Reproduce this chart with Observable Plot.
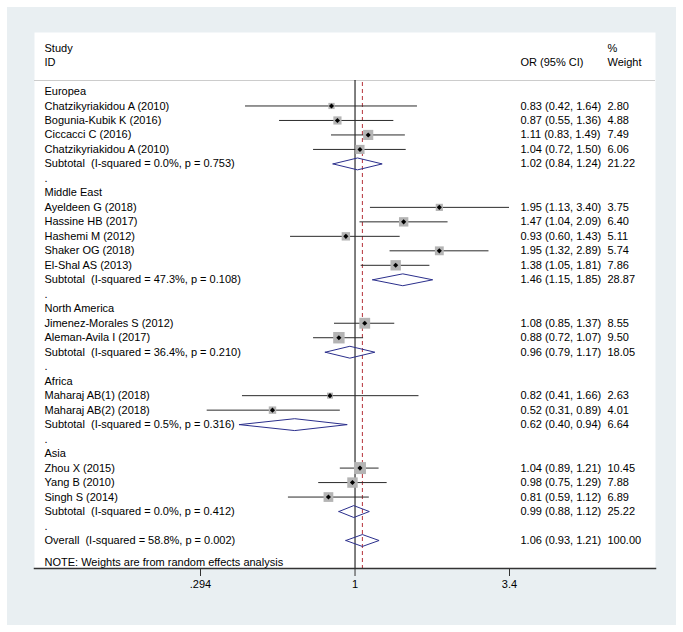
<!DOCTYPE html>
<html>
<head>
<meta charset="utf-8">
<script src="https://cdn.jsdelivr.net/npm/d3@7"></script>
<script src="https://cdn.jsdelivr.net/npm/@observablehq/plot@0.6"></script>
<style>
  html, body { margin: 0; padding: 0; background: #ffffff; }
  #wrap { padding: 7px; }
</style>
</head>
<body>
<div id="wrap"></div>
<script>
// ---- data ----
const groups = ["Europea", "Middle East", "North America", "Africa", "Asia"];

const studyNames = [
  "Chatzikyriakidou A (2010)", "Bogunia-Kubik K (2016)", "Ciccacci C (2016)", "Chatzikyriakidou A (2010)",
  "Ayeldeen G (2018)", "Hassine HB (2017)", "Hashemi M (2012)", "Shaker OG (2018)", "El-Shal AS (2013)",
  "Jimenez-Morales S (2012)", "Aleman-Avila I (2017)",
  "Maharaj AB(1) (2018)", "Maharaj AB(2) (2018)",
  "Zhou X (2015)", "Yang B (2010)", "Singh S (2014)"
];
const studyGroup = [0, 0, 0, 0, 1, 1, 1, 1, 1, 2, 2, 3, 3, 4, 4, 4];
const studyOR    = [0.83, 0.87, 1.11, 1.04, 1.95, 1.47, 0.93, 1.95, 1.38, 1.08, 0.88, 0.82, 0.52, 1.04, 0.98, 0.81];
const studyLo    = [0.42, 0.55, 0.83, 0.72, 1.13, 1.04, 0.60, 1.32, 1.05, 0.85, 0.72, 0.41, 0.31, 0.89, 0.75, 0.59];
const studyHi    = [1.64, 1.36, 1.49, 1.50, 3.40, 2.09, 1.43, 2.89, 1.81, 1.37, 1.07, 1.66, 0.89, 1.21, 1.29, 1.12];
const studyW     = [2.80, 4.88, 7.49, 6.06, 3.75, 6.40, 5.11, 5.74, 7.86, 8.55, 9.50, 2.63, 4.01, 10.45, 7.88, 6.89];

const subtotalHet = ["I-squared = 0.0%, p = 0.753", "I-squared = 47.3%, p = 0.108", "I-squared = 36.4%, p = 0.210",
                     "I-squared = 0.5%, p = 0.316", "I-squared = 0.0%, p = 0.412"];
const subtotalOR  = [1.02, 1.46, 0.96, 0.62, 0.99];
const subtotalLo  = [0.84, 1.15, 0.79, 0.40, 0.88];
const subtotalHi  = [1.24, 1.85, 1.17, 0.94, 1.12];
const subtotalW   = [21.22, 28.87, 18.05, 6.64, 25.22];

const overallHet = "I-squared = 58.8%, p = 0.002";
const overallOR = 1.06, overallLo = 0.93, overallHi = 1.21, overallW = 100.00;

const noteText = "NOTE: Weights are from random effects analysis";
const xTicks = [0.294, 1, 3.4];
const xTickLabels = [".294", "1", "3.4"];

// ---- build table rows (row index = vertical slot) ----
const rows = [];
const studyRows = [];
const pooledRows = [];
let r = 0;
groups.forEach((g, gi) => {
  rows.push({row: r++, label: g});
  studyNames.forEach((name, i) => {
    if (studyGroup[i] !== gi) return;
    const d = {row: r++, label: name, est: studyOR[i], lo: studyLo[i], hi: studyHi[i], w: studyW[i]};
    rows.push(d); studyRows.push(d);
  });
  const s = {row: r++, label: "Subtotal\u00a0 (" + subtotalHet[gi] + ")", est: subtotalOR[gi], lo: subtotalLo[gi], hi: subtotalHi[gi], w: subtotalW[gi], id: g};
  rows.push(s); pooledRows.push(s);
  rows.push({row: r++, label: "."});
});
const overall = {row: r++, label: "Overall\u00a0 (" + overallHet + ")", est: overallOR, lo: overallLo, hi: overallHi, w: overallW, id: "overall"};
rows.push(overall); pooledRows.push(overall);
const noteRow = overall.row + 1.5;
const headerRow1 = -3, headerRow2 = -2, sepRow = -0.76;

const fmt = v => v.toFixed(2);
const numRows = rows.filter(d => d.est !== undefined);

// diamond outlines for pooled estimates
const halfH = 0.41;
const diamondPts = pooledRows.flatMap(d => [
  {id: d.id, x: d.lo, y: d.row},
  {id: d.id, x: d.est, y: d.row - halfH},
  {id: d.id, x: d.hi, y: d.row},
  {id: d.id, x: d.est, y: d.row + halfH},
  {id: d.id, x: d.lo, y: d.row}
]);

const headers = [
  {row: headerRow1, text: "Study", col: 0},
  {row: headerRow2, text: "ID", col: 0},
  {row: headerRow2, text: "OR (95% CI)", col: 1},
  {row: headerRow1, text: "%", col: 2},
  {row: headerRow2, text: "Weight", col: 2}
];
const colDx = [10, 486, 573];
const fontSize = 11;

const chart = Plot.plot({
  width: 669,
  height: 618,
  marginLeft: 27,
  marginRight: 21,
  marginTop: 25,
  marginBottom: 57,
  style: {
    background: "#e9eff2",
    fontFamily: "Arial, 'Liberation Sans', Helvetica, sans-serif",
    fontSize: "11px",
    color: "#000"
  },
  x: {type: "log", domain: [0.294, 3.4], range: [193, 502]},
  y: {type: "linear", domain: [0, 31], range: [84, 533], axis: null},
  r: {type: "sqrt", domain: [0, 10.45], range: [0, 6.76]},
  marks: [
    Plot.frame({fill: "white", stroke: null}),
    Plot.ruleY([sepRow], {stroke: "#cccccc", strokeWidth: 1}),
    Plot.ruleX([1], {stroke: "#000", strokeWidth: 1, insetTop: 48}),
    Plot.ruleX([overallOR], {stroke: "#b5323a", strokeWidth: 1, strokeDasharray: "4,3", insetTop: 50}),
    Plot.ruleY(studyRows, {y: "row", x1: "lo", x2: "hi", stroke: "#2b2b2b", strokeWidth: 1}),
    Plot.dot(studyRows, {x: "est", y: "row", r: "w", symbol: "square", fill: "#b4b4b4", stroke: null}),
    Plot.dot(studyRows, {x: "est", y: "row", r: 2.3, symbol: "diamond2", fill: "#000", stroke: null}),
    Plot.line(diamondPts, {x: "x", y: "y", z: "id", stroke: "#2b2f8c", strokeWidth: 1, curve: "linear"}),
    ...[0, 1, 2].map(c => Plot.text(headers.filter(h => h.col === c),
      {y: "row", text: "text", frameAnchor: "left", dx: colDx[c], textAnchor: "start", fontSize, fill: "#000"})),
    Plot.text(rows, {y: "row", text: "label", frameAnchor: "left", dx: colDx[0], textAnchor: "start", fontSize, fill: "#000"}),
    Plot.text(numRows, {y: "row", text: d => `${fmt(d.est)} (${fmt(d.lo)}, ${fmt(d.hi)})`, frameAnchor: "left", dx: colDx[1], textAnchor: "start", fontSize, fill: "#000"}),
    Plot.text(numRows, {y: "row", text: d => fmt(d.w), frameAnchor: "left", dx: colDx[2], textAnchor: "start", fontSize, fill: "#000"}),
    Plot.text([noteText], {y: [noteRow], text: d => d, frameAnchor: "left", dx: colDx[0], textAnchor: "start", fontSize, fill: "#000"}),
    Plot.frame({anchor: "bottom", stroke: "#333", strokeWidth: 1.5}),
    Plot.axisX({ticks: xTicks, tickFormat: d => xTickLabels[xTicks.indexOf(d)], tickSize: 8, tickPadding: 4,
      fontSize, stroke: "#333", label: null})
  ]
});
document.getElementById("wrap").appendChild(chart);
</script>
</body>
</html>
